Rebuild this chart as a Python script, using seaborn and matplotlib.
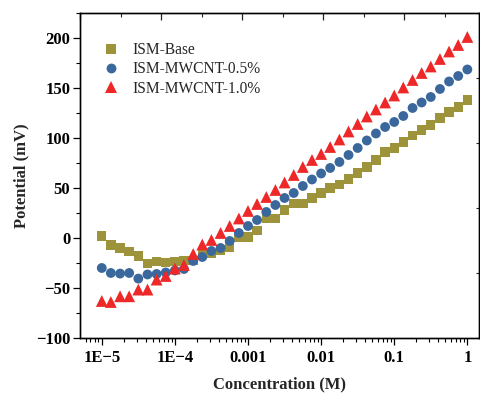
import numpy as np
import pandas as pd
import matplotlib
matplotlib.use("Agg")
import matplotlib.pyplot as plt
import matplotlib.ticker as mticker
import seaborn as sns

# concentrations (M), 8 points per decade from 1E-5 to 1
conc = [
    1.00e-5, 1.33e-5, 1.78e-5, 2.37e-5, 3.16e-5, 4.22e-5, 5.62e-5, 7.50e-5,
    1.00e-4, 1.33e-4, 1.78e-4, 2.37e-4, 3.16e-4, 4.22e-4, 5.62e-4, 7.50e-4,
    1.00e-3, 1.33e-3, 1.78e-3, 2.37e-3, 3.16e-3, 4.22e-3, 5.62e-3, 7.50e-3,
    1.00e-2, 1.33e-2, 1.78e-2, 2.37e-2, 3.16e-2, 4.22e-2, 5.62e-2, 7.50e-2,
    1.00e-1, 1.33e-1, 1.78e-1, 2.37e-1, 3.16e-1, 4.22e-1, 5.62e-1, 7.50e-1,
    1.00,
]

ism_base = [
    2, -7, -10, -13.5, -18, -25.5, -23.5, -24.5, -23.5, -22.5,
    -22.5, -16.5, -15.5, -12, -9, 0.5, 1, 7.5, 19.5, 19.5,
    28, 34.5, 34.5, 40, 45, 50, 53.5, 59, 65, 71,
    78, 86, 90, 96, 102.5, 108, 113, 120, 126, 131,
    138,
]
ism_cnt05 = [
    -30, -35, -35.6, -35, -40.6, -36.5, -36, -34.5, -32.5, -31,
    -23, -19, -13, -10, -3, 5, 12, 18, 26, 33,
    40, 45, 52, 58.5, 64.5, 70, 76, 83, 90, 97.5,
    104.5, 111, 116, 122, 130, 135.5, 141, 149, 156.5, 162,
    168.5,
]
ism_cnt10 = [
    -63, -64, -58.3, -58.3, -51.6, -51.6, -41.6, -38, -30.6, -27,
    -16, -6.5, -2, 5, 12, 19.5, 27, 34, 41, 48,
    55.5, 63, 71, 78, 84, 91, 98.5, 106.5, 114, 121.5,
    128.5, 135.5, 142.5, 150.5, 158, 165, 171.5, 179, 186.5, 193,
    201,
]

labels = ["ISM-Base", "ISM-MWCNT-0.5%", "ISM-MWCNT-1.0%"]
colors = {"ISM-Base": "#9C933A", "ISM-MWCNT-0.5%": "#3A679C", "ISM-MWCNT-1.0%": "#EE2828"}
markers = {"ISM-Base": "s", "ISM-MWCNT-0.5%": "o", "ISM-MWCNT-1.0%": "^"}
sizes = {"ISM-Base": 46, "ISM-MWCNT-0.5%": 50, "ISM-MWCNT-1.0%": 72}

df = pd.concat([
    pd.DataFrame({"conc": conc, "potential": ism_base, "sample": labels[0]}),
    pd.DataFrame({"conc": conc, "potential": ism_cnt05, "sample": labels[1]}),
    pd.DataFrame({"conc": conc, "potential": ism_cnt10, "sample": labels[2]}),
])

sns.set_theme(style="ticks")
plt.rcParams["font.family"] = ["Liberation Serif", "DejaVu Serif"]
plt.rcParams["axes.linewidth"] = 0.9

fig = plt.figure(figsize=(4.8, 3.96), dpi=100)
ax = fig.add_axes([0.1667, 0.1465, 0.8313, 0.8207])

sns.scatterplot(data=df, x="conc", y="potential", hue="sample", style="sample",
                size="sample", hue_order=labels, style_order=labels, size_order=labels,
                palette=colors, markers=markers, sizes=sizes,
                edgecolor="none", linewidth=0, ax=ax, zorder=3)

ax.set_xscale("log")
ax.set_xlim(5.04e-6, 1.445)
ax.set_ylim(-100, 225)

ax.xaxis.set_major_locator(mticker.LogLocator(base=10, numticks=10))
ax.xaxis.set_minor_locator(mticker.LogLocator(base=10, subs=np.arange(2, 10), numticks=20))
ax.xaxis.set_minor_formatter(mticker.NullFormatter())
xlab = {1e-5: "1E\u22125", 1e-4: "1E\u22124", 1e-3: "0.001", 1e-2: "0.01", 1e-1: "0.1", 1: "1"}
ax.xaxis.set_major_formatter(mticker.FuncFormatter(
    lambda v, p: min(xlab.items(), key=lambda kv: abs(np.log10(kv[0]) - np.log10(v)))[1]))

ax.yaxis.set_major_locator(mticker.MultipleLocator(50))
ax.yaxis.set_minor_locator(mticker.MultipleLocator(25))
ax.yaxis.set_major_formatter(mticker.FuncFormatter(lambda v, p: f"{int(v)}".replace("-", "\u2212")))

ax.tick_params(axis="both", which="major", direction="out", length=5, width=0.9,
               labelsize=12, colors="black", pad=2)
ax.tick_params(axis="x", which="major", pad=4)
ax.tick_params(axis="both", which="minor", direction="out", length=3, width=0.8, colors="black")
for t in ax.get_xticklabels() + ax.get_yticklabels():
    t.set_fontweight("bold")

ax.set_xlabel("Concentration (M)", fontsize=12, fontweight="bold", labelpad=7)
ax.set_ylabel("Potential (mV)", fontsize=12, fontweight="bold", labelpad=5)

# top and right axes: inward ticks, no labels
top = ax.twiny()
top.set_xlim(0, 9.85)
top.xaxis.set_major_locator(mticker.MultipleLocator(2))
top.xaxis.set_minor_locator(mticker.MultipleLocator(1))
top.tick_params(axis="x", which="major", direction="in", length=5, width=0.9, labeltop=False)
top.tick_params(axis="x", which="minor", direction="in", length=3, width=0.8)
right = ax.twinx()
right.set_ylim(0, 5)
right.yaxis.set_major_locator(mticker.MultipleLocator(1))
right.yaxis.set_minor_locator(mticker.NullLocator())
right.tick_params(axis="y", which="major", direction="in", length=2.5, width=0.8, labelright=False)
for a in (ax, top, right):
    for s in a.spines.values():
        s.set_color("black")
        s.set_linewidth(0.9)

leg = ax.legend(loc="upper left", bbox_to_anchor=(0.03, 0.93), frameon=False,
                fontsize=11.2, handletextpad=0.6, handlelength=1.6,
                labelspacing=0.22, borderaxespad=0)
for h in leg.legend_handles:
    h.set_markeredgecolor("none")

fig.savefig("out.png", dpi=100)
